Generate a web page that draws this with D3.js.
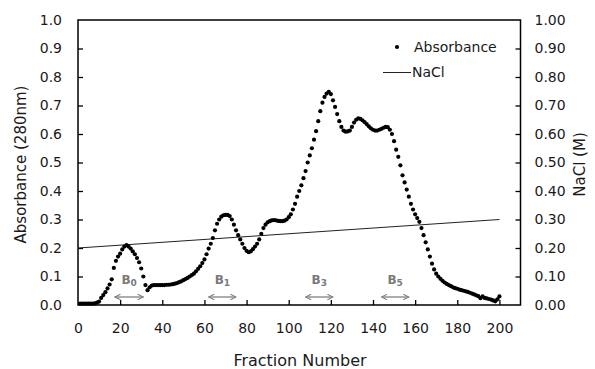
<!DOCTYPE html>
<html><head><meta charset="utf-8">
<script src="https://cdn.jsdelivr.net/npm/d3@7"></script>
<style>body{margin:0;background:#fff}svg{display:block}text{font-family:"DejaVu Sans",Verdana,sans-serif}</style>
</head><body><svg id="c" width="595" height="369"></svg>
<script>
// Absorbance (280 nm) per fraction, fractions 1..200
const fractions = d3.range(1, 201);
const absorbance = [
0.005,0.005,0.005,0.005,0.005,0.005,0.005,0.006,0.008,0.012,
0.025,0.035,0.045,0.058,0.072,0.090,0.130,0.155,0.170,0.180,
0.195,0.205,0.210,0.205,0.198,0.188,0.178,0.165,0.150,0.128,
0.100,0.070,0.052,0.062,0.068,0.070,0.070,0.070,0.070,0.070,
0.070,0.071,0.071,0.072,0.073,0.075,0.077,0.080,0.083,0.087,
0.091,0.095,0.100,0.105,0.110,0.118,0.127,0.136,0.147,0.160,
0.178,0.198,0.215,0.235,0.262,0.285,0.300,0.310,0.315,0.316,
0.316,0.312,0.300,0.282,0.262,0.245,0.230,0.215,0.200,0.190,
0.185,0.188,0.196,0.205,0.215,0.230,0.250,0.270,0.282,0.290,
0.294,0.297,0.298,0.297,0.295,0.294,0.294,0.296,0.300,0.308,
0.318,0.335,0.355,0.380,0.400,0.420,0.445,0.470,0.500,0.525,
0.550,0.580,0.610,0.645,0.680,0.710,0.730,0.742,0.748,0.740,
0.718,0.695,0.670,0.645,0.625,0.612,0.608,0.609,0.612,0.625,
0.640,0.650,0.655,0.653,0.648,0.642,0.635,0.627,0.620,0.615,
0.612,0.612,0.615,0.618,0.622,0.625,0.624,0.615,0.600,0.575,
0.545,0.520,0.490,0.455,0.430,0.405,0.380,0.355,0.335,0.318,
0.305,0.292,0.270,0.245,0.220,0.195,0.170,0.145,0.125,0.110,
0.100,0.092,0.085,0.079,0.074,0.070,0.066,0.062,0.059,0.057,
0.054,0.052,0.050,0.048,0.046,0.043,0.040,0.037,0.034,0.031,
0.024,0.030,0.025,0.023,0.021,0.019,0.016,0.013,0.020,0.030];
// NaCl gradient (M): start and end
const naclFraction = [0, 200];
const naclConc = [0.20, 0.30];
// Pool bands
const bandNames = ["B", "B", "B", "B"];
const bandSubs = ["0", "1", "3", "5"];
const bandStart = [17.5, 62, 108, 144];
const bandEnd = [31, 75, 121, 157];
// Axis ticks
const xTicks = [0, 20, 40, 60, 80, 100, 120, 140, 160, 180, 200];
const yTicks = [0, 0.1, 0.2, 0.3, 0.4, 0.5, 0.6, 0.7, 0.8, 0.9, 1.0];
const y2Ticks = [0, 0.1, 0.2, 0.3, 0.4, 0.5, 0.6, 0.7, 0.8, 0.9, 1.0];
const legendLabels = ["Absorbance", "NaCl"];

const svg = d3.select("#c");
const L = 78, R = 520.5, T = 20, B = 305;
const x = d3.scaleLinear().domain([0, 210]).range([L, R]);
const y = d3.scaleLinear().domain([0, 1]).range([B, T]);
const y2 = d3.scaleLinear().domain([0, 1]).range([B, T]);

// axes
const ax = svg.append("g").attr("transform", `translate(0,${B})`)
  .call(d3.axisBottom(x).tickValues(xTicks).tickSizeInner(-5).tickSizeOuter(0).tickPadding(18).tickFormat(d3.format("d")));
const ay = svg.append("g").attr("transform", `translate(${L},0)`)
  .call(d3.axisLeft(y).tickValues(yTicks).tickSizeInner(-5).tickSizeOuter(0).tickPadding(16).tickFormat(d3.format(".1f")));
const ay2 = svg.append("g").attr("transform", `translate(${R},0)`)
  .call(d3.axisRight(y2).tickValues(y2Ticks).tickSizeInner(-5).tickSizeOuter(0).tickPadding(14).tickFormat(d3.format(".2f")));
[ax, ay, ay2].forEach(g => {
  g.select(".domain").remove();
  g.selectAll(".tick line").attr("stroke", "#000").attr("stroke-width", 1.3);
  g.selectAll(".tick text").attr("fill", "#1a1a1a").style("font-size", "14px").style("font-family", '"DejaVu Sans",Verdana,sans-serif');
});
ax.selectAll(".tick").filter(d => d === 0).select("line").remove();
ay.selectAll(".tick").filter(d => d === 0 || d === 1).select("line").remove();
ay2.selectAll(".tick").filter(d => d === 0 || d === 1).select("line").remove();

// frame
svg.append("rect").attr("x", L).attr("y", T).attr("width", R - L).attr("height", B - T)
  .attr("fill", "none").attr("stroke", "#000").attr("stroke-width", 1.5);

// NaCl line
svg.append("line")
  .attr("x1", x(naclFraction[0])).attr("y1", y2(naclConc[0]))
  .attr("x2", x(naclFraction[1])).attr("y2", y2(naclConc[1]))
  .attr("stroke", "#222").attr("stroke-width", 1);

// absorbance dots
svg.append("g").selectAll("circle").data(fractions).join("circle")
  .attr("cx", (d) => x(d)).attr("cy", (d, i) => y(absorbance[i])).attr("r", 2.1).attr("fill", "#000");

// band arrows + labels
const defs = svg.append("defs");
defs.append("marker").attr("id", "ahe").attr("viewBox", "0 0 10 10").attr("refX", 9).attr("refY", 5)
  .attr("markerWidth", 7).attr("markerHeight", 7).attr("markerUnits", "userSpaceOnUse").attr("orient", "auto-start-reverse")
  .append("path").attr("d", "M1,1 L9,5 L1,9").attr("fill", "none").attr("stroke", "#808080").attr("stroke-width", 1.5);
const bands = svg.append("g");
bandNames.forEach((n, i) => {
  bands.append("line").attr("x1", x(bandStart[i])).attr("x2", x(bandEnd[i])).attr("y1", 297).attr("y2", 297)
    .attr("stroke", "#808080").attr("stroke-width", 1.3)
    .attr("marker-start", "url(#ahe)").attr("marker-end", "url(#ahe)");
  const t = bands.append("text").attr("x", x((bandStart[i] + bandEnd[i]) / 2)).attr("y", 284)
    .attr("text-anchor", "middle").attr("fill", "#7a7a7a").style("font-size", "12px").style("font-weight", "bold");
  t.append("tspan").text(n);
  t.append("tspan").attr("dy", 2).style("font-size", "9px").text(bandSubs[i]);
});

// axis titles
svg.append("text").attr("transform", `translate(26,${(T + B) / 2 + 2}) rotate(-90)`).attr("text-anchor", "middle")
  .style("font-size", "15px").attr("fill", "#1a1a1a").text("Absorbance (280nm)");
svg.append("text").attr("transform", `translate(585,${(T + B) / 2 + 2}) rotate(-90)`).attr("text-anchor", "middle")
  .style("font-size", "15px").attr("fill", "#1a1a1a").text("NaCl (M)");
svg.append("text").attr("x", 300).attr("y", 366).attr("text-anchor", "middle")
  .style("font-size", "16px").attr("fill", "#1a1a1a").text("Fraction Number");

// legend
svg.append("circle").attr("cx", 397).attr("cy", 47).attr("r", 2.1).attr("fill", "#000");
svg.append("text").attr("x", 414).attr("y", 51.5).style("font-size", "14px").attr("fill", "#1a1a1a").text(legendLabels[0]);
svg.append("line").attr("x1", 383).attr("x2", 411).attr("y1", 72.5).attr("y2", 72.5).attr("stroke", "#222").attr("stroke-width", 1);
svg.append("text").attr("x", 412).attr("y", 77).style("font-size", "14px").attr("fill", "#1a1a1a").text(legendLabels[1]);
</script></body></html>
